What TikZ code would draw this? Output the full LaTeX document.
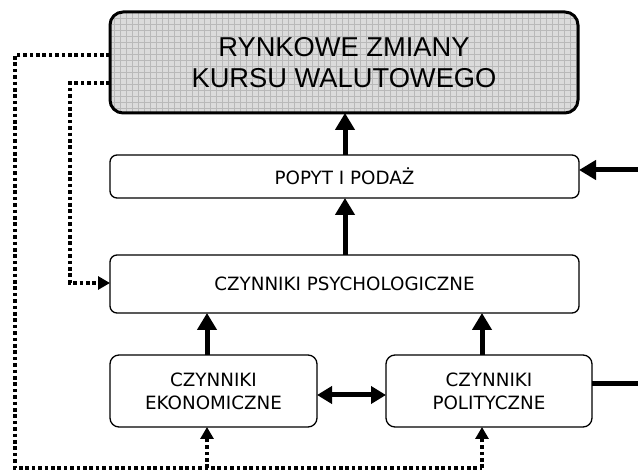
\documentclass[tikz,border=0pt]{standalone}
\usepackage{fontspec}
\setmainfont{DejaVu Sans}
\newfontfamily\arialf{Liberation Sans}
\usetikzlibrary{arrows.meta}
\tikzset{
  box/.style={draw=black, line width=1.3pt, rounded corners=7pt, fill=white, align=center,
    font=\fontsize{18.3}{23}\selectfont, inner sep=0pt, outer sep=0pt},
  bigarrow/.style={line width=5pt, -{Triangle[width=19pt,length=17pt]}},
  dblarrow/.style={line width=5pt, {Triangle[width=17pt,length=15pt]}-{Triangle[width=17pt,length=15pt]}},
  dotline/.style={line width=3.6pt, dash pattern=on 3.6pt off 2.8pt},
  dotarrow/.style={dotline, -{Triangle[width=13pt,length=12pt]}},
}
\begin{document}
\begin{tikzpicture}[x=1pt,y=-1pt]
\useasboundingbox (0,0) rectangle (638,470);
% top box with grid fill
\begin{scope}
  \clip[rounded corners=13pt] (110,12) rectangle (578,113);
  \fill[gray!28] (110,12) rectangle (578,113);
  \draw[gray!55, line width=0.6pt, step=6pt] (110,12) grid (578,113);
\end{scope}
\node[draw=black, line width=3pt, rounded corners=13pt, minimum width=468pt, minimum height=101pt,
  inner sep=0pt, outer sep=0pt, align=center, font=\arialf\fontsize{27.3}{30.5}\selectfont]
  (top) at (344,62.5) {RYNKOWE ZMIANY\\KURSU WALUTOWEGO};
\node[box, minimum width=469pt, minimum height=43pt] (pop) at (344.5,176.5) {POPYT I PODAŻ};
\node[box, minimum width=469pt, minimum height=58pt] (psy) at (344.5,284) {CZYNNIKI PSYCHOLOGICZNE};
\node[box, minimum width=207pt, minimum height=72pt, rounded corners=9pt] (eko) at (213.5,391) {CZYNNIKI\\EKONOMICZNE};
\node[box, minimum width=206pt, minimum height=72pt, rounded corners=9pt] (pol) at (489,391) {CZYNNIKI\\POLITYCZNE};
% coordinates
\coordinate (r1) at (638,170);
\coordinate (r2) at (638,384);
\coordinate (o1) at (15,55);
\coordinate (o2) at (15,468);
\coordinate (i1) at (70,83);
\coordinate (i2) at (70,283);
% thick arrows
\draw[bigarrow] (pop.north -| 345,0) -- (top.south -| 345,0);
\draw[bigarrow] (psy.north -| 345,0) -- (pop.south -| 345,0);
\draw[bigarrow] (eko.north -| 207,0) -- (psy.south -| 207,0);
\draw[bigarrow] (pol.north -| 482,0) -- (psy.south -| 482,0);
\draw[bigarrow] (r1) -- (r1 -| pop.east);
\draw[line width=5pt] (r2 -| pol.east) -- (r2);
\draw[dblarrow] (eko.east |- 0,395) -- (pol.west |- 0,395);
% dotted lines
\draw[dotline] (top.west |- o1) -- (o1) -- (o2) -- (o2 -| 482,0);
\draw[dotarrow] (o2 -| 207,0) -- (eko.south -| 207,0);
\draw[dotarrow] (o2 -| 482,0) -- (pol.south -| 482,0);
\draw[dotarrow] (top.west |- i1) -- (i1) -- (i2) -- (psy.west |- i2);
\end{tikzpicture}
\end{document}
